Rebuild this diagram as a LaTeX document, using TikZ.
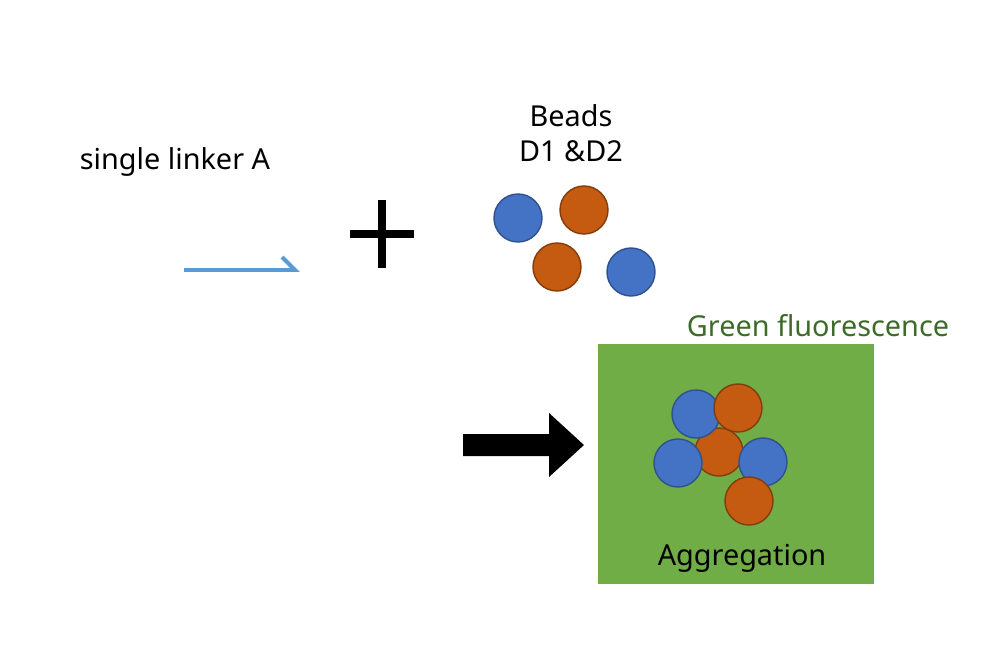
\documentclass[tikz,border=0pt]{standalone}
\usepackage{fontspec}
\setmainfont{Noto Sans}
\usetikzlibrary{positioning}

\definecolor{beadblue}{HTML}{4472C4}
\definecolor{beadblueline}{HTML}{2F528F}
\definecolor{beadorange}{HTML}{C55A11}
\definecolor{beadorangeline}{HTML}{843C0C}
\definecolor{linkerblue}{HTML}{5B9BD5}
\definecolor{boxgreen}{HTML}{70AD47}
\definecolor{textgreen}{HTML}{3D6B2A}

\begin{document}
\begin{tikzpicture}[
                    x=0.025cm, y=-0.025cm,
                    bead/.style={circle, draw, line width=1pt, minimum size=1.2cm, inner sep=0pt},
                    bluebead/.style={bead, fill=beadblue, draw=beadblueline},
                    orangebead/.style={bead, fill=beadorange, draw=beadorangeline},
                    label/.style={font=\fontsize{20.5}{25}\selectfont, align=center},
                ]
                \useasboundingbox (0,0) rectangle (1002,652);

                % linker
                \node[label, anchor=base] (linkerA) at (175,169) {single linker A};
                \coordinate (lstart) at (184,270);
                \coordinate (lend) at (295,270);
                \coordinate (lhook) at (282,257);
                \draw[linkerblue, line width=2.8pt, line join=miter] (lstart) -- (lend) -- (lhook);

                % plus
                \coordinate (plusl) at (350,234);
                \coordinate (plusr) at (414,234);
                \coordinate (plust) at (382,200);
                \coordinate (plusb) at (382,268);
                \draw[line width=5.8pt] (plusl) -- (plusr);
                \draw[line width=5.8pt] (plust) -- (plusb);

                % free beads
                \node[label] (beads) at (571,133) {Beads\\D1 \&D2};
                \node[bluebead] (b1) at (518,218) {};
                \node[orangebead] (o1) at (584,210) {};
                \node[orangebead] (o2) at (557,267) {};
                \node[bluebead] (b2) at (631,272) {};

                % result arrow
                \fill (463,434) -- (549,434) -- (549,413) -- (584,445) -- (549,477)
                      -- (549,456) -- (463,456) -- cycle;

                % aggregate
                \fill[boxgreen] (598,344) rectangle (874,584);
                \node[label, text=textgreen, anchor=base] (fluor) at (818,336) {Green fluorescence};
                \node[orangebead] (c0) at (719,452) {};
                \node[bluebead] (c1) at (696,414) {};
                \node[orangebead] (c2) at (738,408) {};
                \node[bluebead] (c3) at (678,463) {};
                \node[bluebead] (c4) at (763,462) {};
                \node[orangebead] (c5) at (749,501) {};
                \node[label, anchor=base] (aggr) at (742,565) {Aggregation};
            \end{tikzpicture}
\end{document}
